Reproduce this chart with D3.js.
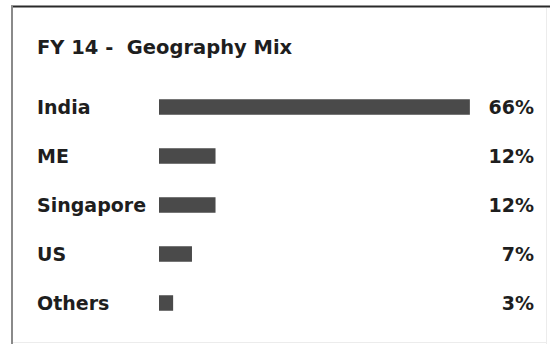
<!DOCTYPE html>
<html>
<head>
<meta charset="utf-8">
<script src="https://cdn.jsdelivr.net/npm/d3@7"></script>
<style>
  html, body { margin: 0; padding: 0; background: #fff; }
  svg { display: block; }
  text { font-family: "DejaVu Sans", sans-serif; font-weight: bold; fill: #1e1e1e; }
</style>
</head>
<body>
<svg id="chart" width="550" height="344"></svg>
<script>
const title = "FY 14 -  Geography Mix";
const categories = ["India", "ME", "Singapore", "US", "Others"];
const values = [66, 12, 12, 7, 3];
const valueLabels = ["66%", "12%", "12%", "7%", "3%"];

const W = 550, H = 344;
const svg = d3.select("#chart");

svg.append("rect").attr("width", W).attr("height", H).attr("fill", "#fff");

// frame
svg.append("line").attr("x1", 11).attr("x2", W).attr("y1", 6.5).attr("y2", 6.5)
  .attr("stroke", "#2a2a2a").attr("stroke-width", 2);
svg.append("line").attr("x1", 12).attr("x2", 12).attr("y1", 6).attr("y2", H)
  .attr("stroke", "#8a8a8a").attr("stroke-width", 2);
svg.append("line").attr("x1", 546.5).attr("x2", 546.5).attr("y1", 8).attr("y2", H)
  .attr("stroke", "#ececec").attr("stroke-width", 1);
svg.append("line").attr("x1", 13).attr("x2", 546).attr("y1", 342.5).attr("y2", 342.5)
  .attr("stroke", "#ececec").attr("stroke-width", 1);

svg.append("text").attr("x", 37).attr("y", 54)
  .attr("font-size", 19.5).style("white-space", "pre").text(title);

const x = d3.scaleLinear().domain([0, 100]).range([159, 630]);
const y = d3.scalePoint().domain(categories).range([107, 303]);
const barH = 15.5;

const rows = categories.map((c, i) => ({ c, v: values[i], l: valueLabels[i] }));

svg.selectAll("rect.bar").data(rows).join("rect").attr("class", "bar")
  .attr("x", x(0)).attr("y", d => y(d.c) - barH / 2)
  .attr("width", d => x(d.v) - x(0)).attr("height", barH)
  .attr("fill", "#4a4a4a");

svg.selectAll("text.cat").data(rows).join("text").attr("class", "cat")
  .attr("x", 37).attr("y", d => y(d.c)).attr("dy", "0.37em")
  .attr("font-size", 19).text(d => d.c);

svg.selectAll("text.val").data(rows).join("text").attr("class", "val")
  .attr("x", 534).attr("y", d => y(d.c)).attr("dy", "0.37em")
  .attr("text-anchor", "end").attr("font-size", 19).text(d => d.l);
</script>
</body>
</html>
